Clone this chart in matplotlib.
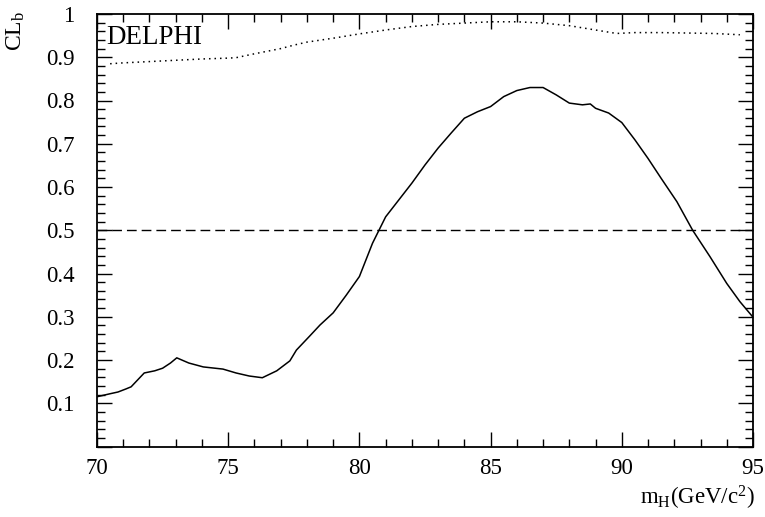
import matplotlib
matplotlib.use("Agg")
import matplotlib.pyplot as plt
from matplotlib.ticker import MultipleLocator, FuncFormatter

plt.rcParams['font.family'] = ['Liberation Serif', 'DejaVu Serif']
plt.rcParams['mathtext.fontset'] = 'custom'
plt.rcParams['mathtext.rm'] = 'Liberation Serif'
plt.rcParams['mathtext.it'] = 'Liberation Serif:italic'

# observed CL_b versus Higgs mass
mh_obs = [70.0, 70.5, 70.8, 71.1, 71.3, 71.8, 72.2, 72.5, 72.8, 73.04, 73.5, 74.05,
          74.8, 75.3, 75.8, 76.3, 76.85, 77.35, 77.6, 78.1, 78.5, 79.0, 79.5, 80.0,
          80.5, 81.0, 81.5, 82.0, 82.5, 83.0, 83.5, 84.0, 84.5, 85.0, 85.5, 86.0,
          86.5, 87.0, 87.5, 88.0, 88.5, 88.8, 89.0, 89.5, 90.0, 90.5, 91.0, 91.5,
          92.1, 92.7, 93.36, 94.0, 94.5, 95.0]
clb_obs = [0.115, 0.122, 0.126, 0.133, 0.138, 0.170, 0.175, 0.181, 0.193, 0.205, 0.193, 0.184,
           0.179, 0.170, 0.163, 0.159, 0.175, 0.198, 0.223, 0.255, 0.281, 0.309, 0.350, 0.393,
           0.470, 0.531, 0.570, 0.609, 0.651, 0.690, 0.725, 0.759, 0.774, 0.786, 0.809, 0.823,
           0.830, 0.830, 0.813, 0.794, 0.790, 0.792, 0.782, 0.771, 0.749, 0.709, 0.666, 0.620,
           0.566, 0.500, 0.439, 0.377, 0.335, 0.299]

# expected (dotted) curve
mh_exp = [70.5, 71.0, 72.0, 73.0, 74.0, 75.0, 75.3, 76.0, 77.0, 77.5, 78.0, 79.0, 80.0,
          81.0, 82.0, 83.0, 84.0, 85.0, 86.0, 87.0, 88.0, 88.7, 89.3, 89.8, 90.5,
          91.5, 92.5, 93.5, 94.5]
clb_exp = [0.885, 0.887, 0.890, 0.893, 0.896, 0.898, 0.899, 0.908, 0.920, 0.928, 0.935, 0.944, 0.954,
           0.963, 0.971, 0.976, 0.979, 0.982, 0.982, 0.979, 0.973, 0.966, 0.960, 0.955, 0.957,
           0.957, 0.956, 0.955, 0.952]

fig = plt.figure(figsize=(7.65, 5.17), dpi=100)
ax = fig.add_axes([97/765, 1 - 446.5/517, 656/765, 432.5/517])

ax.plot(mh_obs, clb_obs, color='black', lw=1.1)
ax.plot(mh_exp, clb_exp, color='black', lw=1.1, linestyle=(0, (1, 2.6)))
ax.axhline(0.5, color='black', lw=1.0, linestyle=(0, (7, 3.6)))

ax.set_xlim(70, 95)
ax.set_ylim(0, 1)
ax.xaxis.set_major_locator(MultipleLocator(5))
ax.xaxis.set_minor_locator(MultipleLocator(1))
ax.yaxis.set_major_locator(MultipleLocator(0.1))
ax.yaxis.set_minor_locator(MultipleLocator(0.02))
ax.yaxis.set_major_formatter(FuncFormatter(lambda v, p: '' if abs(v) < 1e-6 else '%g' % round(v, 2)))

ax.tick_params(which='both', direction='in', top=True, right=True, width=1.0, labelsize=16.5)
ax.tick_params(which='major', length=11)
ax.tick_params(which='minor', length=5.5)
ax.tick_params(axis='y', pad=16)
ax.tick_params(axis='x', pad=8)
for s in ax.spines.values():
    s.set_linewidth(1.3)

ax.text(0.014, 0.975, 'DELPHI', transform=ax.transAxes, fontsize=19.5, va='top', ha='left')

fig.text(16/765, 1 - 11/517, r'CL$_{\rm b}$', rotation=90, fontsize=17, ha='center', va='top')
fig.text(755/765, 1 - 512/517, r'm$_{\rm H}$(GeV/c$^2$)', fontsize=16.5, ha='right', va='bottom')

fig.savefig('out.png', dpi=100)
